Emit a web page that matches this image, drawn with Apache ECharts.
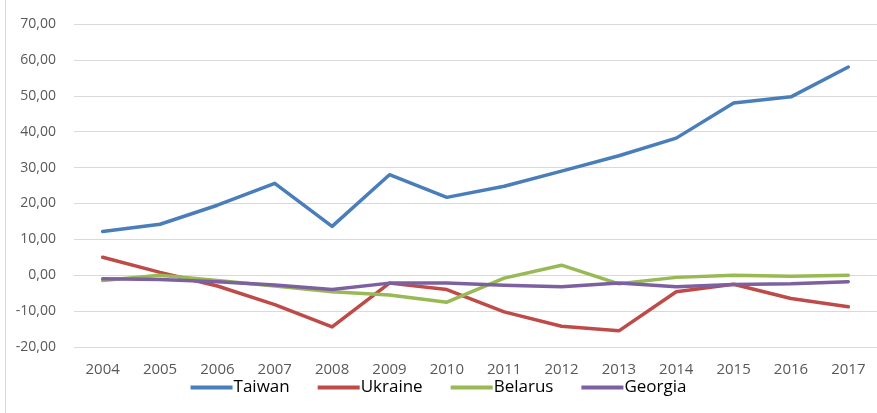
<!DOCTYPE html>
<html>
<head>
<meta charset="utf-8">
<script src="https://cdn.jsdelivr.net/npm/echarts@6/dist/echarts.min.js"></script>
<style>
	body { margin: 0; background: #fff; }
	#wrap { position: relative; width: 877px; height: 413px; }
	#edge { position: absolute; left: 5px; top: 0; width: 0; height: 413px; border-left: 1px solid #d9d9d9; }
	#chart { position: absolute; left: 0; top: 0; width: 877px; height: 413px; }
</style>
</head>
<body>
<div id="wrap">
	<div id="edge"></div>
	<div id="chart"></div>
</div>
<script>
// 年份
const years = ['2004', '2005', '2006', '2007', '2008', '2009', '2010', '2011', '2012', '2013', '2014', '2015', '2016', '2017'];
const taiwan = [12.2, 14.2, 19.5, 25.6, 13.6, 28.0, 21.7, 24.8, 29.0, 33.3, 38.2, 48.0, 49.7, 58.0];
const ukraine = [5.0, 0.8, -3.0, -8.2, -14.4, -2.2, -4.0, -10.2, -14.2, -15.5, -4.6, -2.5, -6.5, -8.8];
const belarus = [-1.5, 0.0, -1.5, -3.0, -4.6, -5.5, -7.5, -0.8, 2.8, -2.4, -0.6, 0.0, -0.3, 0.0];
const georgia = [-1.0, -1.2, -1.8, -2.7, -4.0, -2.2, -2.2, -2.8, -3.2, -2.2, -3.2, -2.6, -2.4, -1.8];

const seriesList = [
	{ name: 'Taiwan', data: taiwan, color: '#4a7ebb' },
	{ name: 'Ukraine', data: ukraine, color: '#be4b48' },
	{ name: 'Belarus', data: belarus, color: '#98b954' },
	{ name: 'Georgia', data: georgia, color: '#7d60a0' }
];

const chart = echarts.init(document.getElementById('chart'));
chart.setOption({
	animation: false,
	color: seriesList.map(s => s.color),
	grid: {
		left: 74,
		right: 0,
		top: 24,
		bottom: 66
	},
	legend: {
		bottom: 12,
		left: 'center',
		icon: 'rect',
		itemWidth: 42,
		itemHeight: 4,
		itemGap: 28,
		textStyle: {
			color: '#000',
			fontSize: 17,
			fontFamily: 'Open Sans',
			padding: [0, 0, 0, -4]
		},
		data: seriesList.map(s => s.name)
	},
	xAxis: {
		type: 'category',
		data: years,
		axisLine: { lineStyle: { color: '#d9d9d9' } },
		axisTick: { show: false },
		axisLabel: {
			color: '#595959',
			fontSize: 15,
			fontFamily: 'Open Sans',
			margin: 15
		}
	},
	yAxis: {
		type: 'value',
		min: -20,
		max: 70,
		interval: 10,
		axisLine: { show: false },
		axisTick: { show: false },
		axisLabel: {
			color: '#595959',
			fontSize: 14,
			fontFamily: 'Open Sans',
			margin: 18,
			formatter: v => v.toFixed(2).replace('.', ',')
		},
		splitLine: { lineStyle: { color: '#d9d9d9', width: 1 } }
	},
	series: seriesList.map(s => ({
		name: s.name,
		type: 'line',
		data: s.data,
		symbol: 'none',
		lineStyle: { width: 3.5, color: s.color, cap: 'round', join: 'round' },
		itemStyle: { color: s.color }
	}))
});
</script>
</body>
</html>
